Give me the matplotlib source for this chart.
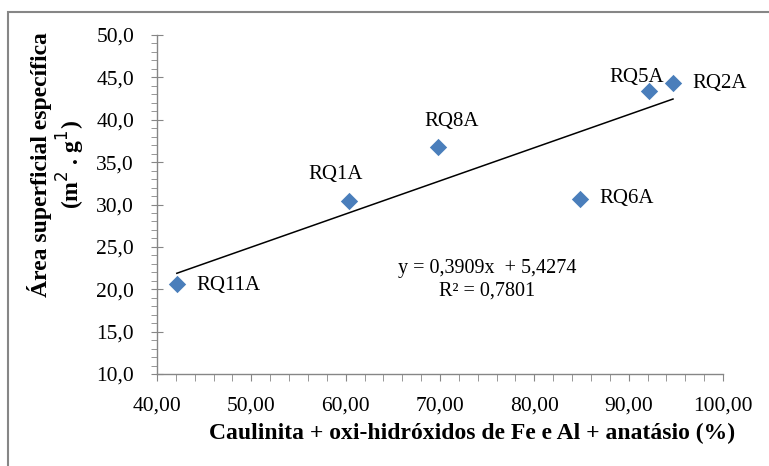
import numpy as np
import matplotlib.pyplot as plt
from matplotlib.patches import Rectangle
from matplotlib.ticker import MultipleLocator, FuncFormatter

# data
samples = ["RQ11A", "RQ1A", "RQ8A", "RQ6A", "RQ5A", "RQ2A"]
caulinita = [42.1, 60.4, 69.8, 84.8, 92.2, 94.7]
area = [20.6, 30.4, 36.8, 30.7, 43.4, 44.3]
slope, intercept, r2 = 0.3909, 5.4274, 0.7801

plt.rcParams['font.family'] = ['Liberation Serif', 'DejaVu Serif']

fig = plt.figure(figsize=(7.69, 4.66), dpi=100)
ax = fig.add_axes([157 / 769, 1 - 374 / 466, (723 - 157) / 769, (374 - 35) / 466])

ax.scatter(caulinita, area, marker='D', s=78, color='#4A7EBB', zorder=3, linewidths=0)

xfit = np.array([min(caulinita), max(caulinita)])
ax.plot(xfit, slope * xfit + intercept, color='black', lw=1.1, zorder=2)

# point labels: (dx, dy, ha) offsets in points
offsets = {
    "RQ11A": (14, -1, 'left'),
    "RQ1A": (-10, 19, 'center'),
    "RQ8A": (10, 18, 'center'),
    "RQ6A": (14, 0, 'left'),
    "RQ5A": (-9, 10, 'center'),
    "RQ2A": (14, 0, 'left'),
}
for name, x, y in zip(samples, caulinita, area):
    dx, dy, ha = offsets[name]
    ax.annotate(name, (x, y), xytext=(dx, dy), textcoords='offset points',
                ha=ha, va='center', fontsize=15)

ax.text(487 / 769, 1 - 268 / 466, "y = 0,3909x  + 5,4274", transform=fig.transFigure,
        ha='center', va='center', fontsize=14.5)
ax.text(487 / 769, 1 - 291 / 466, "R² = 0,7801", transform=fig.transFigure,
        ha='center', va='center', fontsize=14.5)

ax.set_xlim(40, 100)
ax.set_ylim(10, 50)
ax.xaxis.set_major_locator(MultipleLocator(10))
ax.xaxis.set_minor_locator(MultipleLocator(2))
ax.yaxis.set_major_locator(MultipleLocator(5))
ax.yaxis.set_minor_locator(MultipleLocator(1))
ax.xaxis.set_major_formatter(FuncFormatter(lambda v, p: f"{v:.2f}".replace('.', ',')))
ax.yaxis.set_major_formatter(FuncFormatter(lambda v, p: f"{v:.1f}".replace('.', ',')))

for s in ['top', 'right']:
    ax.spines[s].set_visible(False)
for s in ['left', 'bottom']:
    ax.spines[s].set_color('#868686')
    ax.spines[s].set_linewidth(1)

ax.tick_params(axis='y', which='major', direction='inout', length=9, color='#868686',
               labelsize=15.5, pad=12)
ax.tick_params(axis='y', which='minor', direction='out', length=4, color='#868686')
ax.tick_params(axis='x', which='both', direction='out', length=5, color='#868686',
               labelsize=15.5, pad=11)

fig.text(472 / 769, 1 - 433 / 466, "Caulinita + oxi-hidróxidos de Fe e Al + anatásio (%)",
         ha='center', va='center', fontsize=17, fontweight='bold')
fig.text(57 / 769, 1 - 165 / 466, "Área superficial específica\n(m$^{2}$ . g$^{1}$)",
         ha='center', va='center', rotation=90, fontsize=17, fontweight='bold',
         linespacing=1.1)

fig.patches.append(Rectangle((8 / 769, -0.1), 1.2, 1.1 - 12.5 / 466,
                             transform=fig.transFigure, fill=False,
                             edgecolor='#868686', lw=1.5))

fig.savefig("out.png", dpi=100)
plt.close(fig)
